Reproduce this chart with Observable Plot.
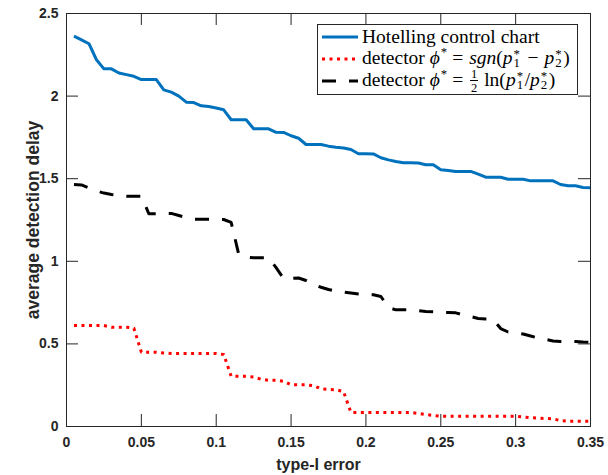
<!DOCTYPE html>
<html>
<head>
<meta charset="utf-8">
<script src="https://cdn.jsdelivr.net/npm/d3@7"></script>
<script src="https://cdn.jsdelivr.net/npm/@observablehq/plot@0.6"></script>
<style>
  body { margin: 0; background: #fff; }
  #wrap { position: relative; width: 608px; height: 475px; }
  #legend {
    position: absolute; left: 317px; top: 24px; width: 261px; height: 71px;
    box-sizing: border-box; border: 1px solid #262626; background: #fff;
    padding-top: 1px; font-family: "Liberation Serif", "Times New Roman", serif;
    font-size: 19.5px; color: #000;
  }
  .row { display: flex; align-items: center; height: 22px; white-space: nowrap; }
  .row svg { margin-left: 4px; margin-right: 4px; flex: none; }
  .lab { line-height: 22px; }
  .lab i { font-style: italic; }
  .eq { margin: 0 6px 0 5px; }
  .mi { margin: 0 6px; }
  .sup { font-size: 0.66em; position: relative; top: -0.6em; margin-left: 1px; }
  .ss { display: inline-block; position: relative; width: 8px; height: 9.75px; margin-left: 1px; }
  .ss span { position: absolute; left: 0; font-size: 12.9px; line-height: 12.9px; }
  .ss .a { top: -6.25px; }
  .ss .b { top: 3px; }
  .frac { display: inline-block; position: relative; width: 8px; height: 9.75px; margin: 0 6px 0 1px; }
  .frac span { position: absolute; left: 0; width: 8px; text-align: center; font-size: 12.5px; line-height: 12.5px; }
  .frac .n { top: -8.2px; }
  .frac .d { top: 5.3px; }
  .frac .bar { top: 4.2px; height: 1px; background: #000; }
</style>
</head>
<body>
<div id="wrap">
  <div id="chart"></div>
  <div id="legend"></div>
</div>
<script>
// ---- data ----
const typeIError = [0.005,0.01,0.015,0.02,0.025,0.03,0.035,0.04,0.045,0.05,
  0.055,0.06,0.065,0.07,0.075,0.08,0.085,0.09,0.095,0.1,
  0.105,0.11,0.115,0.12,0.125,0.13,0.135,0.14,0.145,0.15,
  0.155,0.16,0.165,0.17,0.175,0.18,0.185,0.19,0.195,0.2,
  0.205,0.21,0.215,0.22,0.225,0.23,0.235,0.24,0.245,0.25,
  0.255,0.26,0.265,0.27,0.275,0.28,0.285,0.29,0.295,0.3,
  0.305,0.31,0.315,0.32,0.325,0.33,0.335,0.34,0.345,0.35];

const hotelling = [2.363,2.34,2.317,2.22,2.165,2.165,2.14,2.13,2.12,2.10,
  2.10,2.10,2.038,2.024,2.00,1.963,1.961,1.941,1.937,1.928,
  1.917,1.857,1.857,1.857,1.802,1.802,1.802,1.781,1.78,1.76,
  1.745,1.707,1.707,1.707,1.697,1.69,1.686,1.677,1.651,1.651,
  1.65,1.627,1.614,1.604,1.596,1.596,1.595,1.584,1.584,1.554,
  1.55,1.544,1.544,1.544,1.528,1.509,1.509,1.509,1.497,1.497,
  1.497,1.487,1.487,1.487,1.487,1.465,1.457,1.457,1.447,1.445];

const detectorSgn = [0.611,0.611,0.611,0.611,0.611,0.601,0.601,0.601,0.595,0.45,
  0.45,0.45,0.445,0.442,0.442,0.442,0.442,0.442,0.442,0.442,
  0.436,0.304,0.304,0.304,0.30,0.286,0.28,0.28,0.274,0.252,
  0.252,0.252,0.248,0.228,0.224,0.222,0.212,0.085,0.085,0.085,
  0.085,0.085,0.085,0.085,0.085,0.085,0.079,0.073,0.067,0.062,
  0.062,0.062,0.062,0.062,0.062,0.062,0.062,0.062,0.062,0.062,
  0.058,0.053,0.051,0.048,0.047,0.035,0.032,0.032,0.032,0.032];

const detectorLn = [1.465,1.462,1.444,1.426,1.413,1.404,1.398,1.394,1.394,1.394,
  1.288,1.288,1.29,1.29,1.277,1.265,1.255,1.255,1.255,1.255,
  1.253,1.235,1.044,1.026,1.021,1.021,1.021,0.962,0.896,0.896,
  0.899,0.884,0.86,0.843,0.829,0.819,0.814,0.808,0.802,0.797,
  0.797,0.787,0.72,0.706,0.706,0.706,0.702,0.696,0.694,0.692,
  0.69,0.688,0.675,0.666,0.654,0.651,0.648,0.593,0.572,0.567,
  0.56,0.548,0.536,0.527,0.518,0.515,0.515,0.515,0.512,0.51];

const xTicks = [0,0.05,0.1,0.15,0.2,0.25,0.3,0.35];
const yTicks = [0,0.5,1,1.5,2,2.5];
const xLabel = "type-I error";
const yLabel = "average detection delay";

const pStar = k => `<i>p</i><span class="ss"><span class="a">*</span><span class="b">${k}</span></span>`;
const phiStar = '<i>ϕ</i><span class="sup">*</span>';
const seriesNames = [
  "Hotelling control chart",
  `detector ${phiStar}<span class="eq">=</span><i>sgn</i>(${pStar(1)}<span class="mi">−</span>${pStar(2)})`,
  `detector ${phiStar}<span class="eq">=</span><span class="frac"><span class="n">1</span><span class="bar"></span><span class="d">2</span></span>ln(${pStar(1)}/${pStar(2)})`
];
const seriesColors = ["#0072BD", "#FF0000", "#000000"];
const seriesDash = [null, "3,4.5", "14,13"];

// ---- chart ----
const W = 608, H = 475;
const mL = 66, mR = 18, mT = 13, mB = 49;
const frameW = W - mL - mR, frameH = H - mT - mB;
const tickLen = 12;
const axisColor = "#262626";
const fmt = d3.format("~g");

const series = [hotelling, detectorSgn, detectorLn];
const lineMarks = series.map((vals, i) =>
  Plot.line(vals, {x: typeIError, y: vals, stroke: seriesColors[i], strokeWidth: 3,
    strokeDasharray: seriesDash[i] || undefined, strokeLinecap: "butt", strokeLinejoin: "round"})
);

const chart = Plot.plot({
  width: W, height: H,
  marginLeft: mL, marginRight: mR, marginTop: mT, marginBottom: mB,
  style: {fontFamily: "'Liberation Sans', Arial, Helvetica, sans-serif", fontSize: "14px",
    fontWeight: "bold", color: axisColor, background: "white", overflow: "visible"},
  x: {domain: [0, 0.35]},
  y: {domain: [0, 2.5]},
  marks: [
    ...lineMarks,
    Plot.frame({stroke: axisColor, strokeWidth: 1}),
    Plot.tickX(xTicks, {x: d => d, stroke: axisColor, insetTop: frameH - tickLen}),
    Plot.tickX(xTicks, {x: d => d, stroke: axisColor, insetBottom: frameH - tickLen}),
    Plot.tickY(yTicks, {y: d => d, stroke: axisColor, insetRight: frameW - tickLen}),
    Plot.tickY(yTicks, {y: d => d, stroke: axisColor, insetLeft: frameW - tickLen}),
    Plot.axisX(xTicks, {tickSize: 0, tickPadding: 11, tickFormat: fmt, label: null}),
    Plot.axisY(yTicks, {tickSize: 0, tickPadding: 8, tickFormat: fmt, label: null}),
    Plot.text([xLabel], {text: d => d, frameAnchor: "bottom", dx: -10, dy: 43,
      fontSize: 16, fontWeight: "bold", fill: axisColor}),
    Plot.text([yLabel], {text: d => d, frameAnchor: "left", textAnchor: "middle", rotate: -90, dx: -33,
      fontSize: 17.5, fontWeight: "bold", fill: axisColor})
  ]
});
document.getElementById("chart").appendChild(chart);

// ---- legend ----
const legend = document.getElementById("legend");
seriesNames.forEach((name, i) => {
  const row = document.createElement("div");
  row.className = "row";
  const dash = seriesDash[i] ? `stroke-dasharray="${seriesDash[i]}"` : "";
  row.innerHTML = `<svg width="36" height="22"><line x1="0" y1="11" x2="36" y2="11" stroke="${seriesColors[i]}" stroke-width="3" ${dash}/></svg><span class="lab">${name}</span>`;
  legend.appendChild(row);
});
</script>
</body>
</html>
